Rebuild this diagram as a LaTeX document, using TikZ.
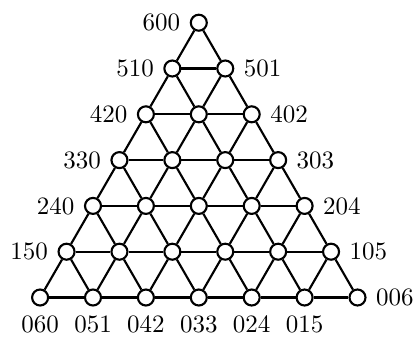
\documentclass[tikz,border=0pt]{standalone}
\begin{document}
\begin{tikzpicture}[x=0.4pt,y=-0.4pt,
  vert/.style={circle,draw,fill=white,inner sep=0pt,minimum size=6.4pt,line width=0.85pt},
  edge/.style={line width=0.85pt},
  lab/.style={font=\normalsize,inner sep=3.6pt}]
\useasboundingbox (0,0) rectangle (414,336);
% vertices
\foreach \i in {0,...,6}{
  \foreach \j in {0,...,\i}{
    \pgfmathsetmacro\xx{198.8+(\j-\i/2)*52.9}
    \pgfmathsetmacro\yy{22.7+\i*45.8}
    \node[vert] (n-\i-\j) at (\xx,\yy) {};
  }
}
% edges
\foreach \i in {0,...,5}{
  \pgfmathtruncatemacro\ii{\i+1}
  \foreach \j in {0,...,\i}{
    \pgfmathtruncatemacro\jj{\j+1}
    \draw[edge] (n-\i-\j) -- (n-\ii-\j);
    \draw[edge] (n-\i-\j) -- (n-\ii-\jj);
  }
}
\foreach \i in {1,...,6}{
  \pgfmathtruncatemacro\im{\i-1}
  \foreach \j in {0,...,\im}{
    \pgfmathtruncatemacro\jj{\j+1}
    \draw[edge] (n-\i-\j) -- (n-\i-\jj);
  }
}
% left labels
\foreach \i in {0,...,5}{
  \pgfmathtruncatemacro\a{6-\i}
  \node[lab,anchor=east] (l-\i) at (n-\i-0.west) {\a\i0};
}
% right labels
\foreach \i in {1,...,6}{
  \pgfmathtruncatemacro\a{6-\i}
  \node[lab,anchor=west] (r-\i) at (n-\i-\i.east) {\a0\i};
}
% bottom labels
\foreach \j in {0,...,5}{
  \pgfmathtruncatemacro\b{6-\j}
  \node[lab,anchor=north] (b-\j) at (n-6-\j.south) {0\b\j};
}
\end{tikzpicture}
\end{document}
